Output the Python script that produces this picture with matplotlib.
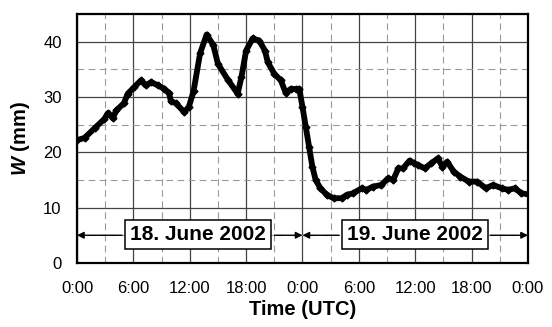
import matplotlib
matplotlib.use("Agg")
import matplotlib.pyplot as plt
from matplotlib.ticker import MultipleLocator, FixedLocator

plt.rcParams["font.family"] = ["Liberation Sans", "DejaVu Sans"]
plt.rcParams["mathtext.fontset"] = "custom"
plt.rcParams["mathtext.it"] = "Liberation Sans:italic:bold"
plt.rcParams["mathtext.rm"] = "Liberation Sans:bold"

# hours since 18 June 2002 0:00 UTC, precipitable water W (mm)
hours = [0.0, 0.8, 1.9, 2.9, 3.3, 3.8, 4.2, 5.0, 5.4, 6.1, 6.8, 7.3, 7.9, 8.6,
         9.3, 9.8, 10.0, 10.5, 11.4, 11.9, 12.4, 13.1, 13.8, 14.5, 15.0, 16.1,
         17.1, 17.5, 18.0, 18.7, 19.4, 20.0, 20.3, 21.0, 21.7, 22.2, 22.8,
         23.3, 23.65, 24.0, 24.35, 24.7, 25.05, 25.4, 25.9, 26.6, 27.3, 28.2,
         28.7, 29.4, 30.3, 30.8, 31.5, 32.4, 33.1, 33.65, 34.2, 34.7, 35.4,
         35.9, 36.3, 37.0, 37.7, 38.4, 38.9, 39.4, 40.1, 40.8, 41.7, 42.6,
         43.5, 44.3, 45.2, 45.9, 46.6, 47.3, 48.0]
w_mm = [22.2, 22.6, 24.4, 26.0, 27.1, 26.2, 27.6, 28.9, 30.6, 31.8, 33.0, 32.1,
        32.7, 32.1, 31.5, 30.7, 29.2, 28.9, 27.3, 28.2, 31.0, 37.9, 41.3, 39.4,
        36.0, 33.0, 30.6, 33.6, 38.4, 40.6, 40.2, 38.4, 36.3, 34.2, 33.0, 30.8,
        31.5, 31.4, 31.5, 28.2, 24.6, 21.0, 17.4, 15.0, 13.5, 12.3, 11.7, 11.7,
        12.3, 12.6, 13.5, 13.2, 13.8, 14.1, 15.3, 15.0, 17.1, 17.1, 18.5, 18.0,
        17.7, 17.1, 18.0, 18.9, 17.4, 18.3, 16.5, 15.6, 14.7, 14.7, 13.5, 14.1,
        13.5, 13.2, 13.5, 12.6, 12.4]

tick_hours = [0, 6, 12, 18, 24, 30, 36, 42, 48]
tick_labels = ["0:00", "6:00", "12:00", "18:00", "0:00", "6:00", "12:00", "18:00", "0:00"]
day_labels = ["18. June 2002", "19. June 2002"]
day_spans = [(0, 24), (24, 48)]
box_edges = [(4.8, 21.0), (27.9, 44.0)]

fig = plt.figure(figsize=(5.52, 3.27), dpi=100)
ax = fig.add_axes([0.1395, 0.196, 0.817, 0.761])

ax.set_xlim(0, 48)
ax.set_ylim(0, 45)
ax.xaxis.set_major_locator(FixedLocator(tick_hours))
ax.xaxis.set_minor_locator(MultipleLocator(3))
ax.yaxis.set_major_locator(FixedLocator([0, 10, 20, 30, 40]))
ax.yaxis.set_minor_locator(MultipleLocator(5))
ax.set_xticklabels(tick_labels)

ax.grid(True, which="major", color="#444444", linewidth=0.9)
ax.grid(True, which="minor", color="#999999", linewidth=0.8, linestyle=(0, (6, 4)))
ax.set_axisbelow(True)
ax.tick_params(which="both", length=0)
ax.tick_params(axis="x", labelsize=12, pad=13)
ax.tick_params(axis="y", labelsize=12, pad=11)
for s in ax.spines.values():
    s.set_linewidth(1.6)
    s.set_color("black")

ax.plot(hours, w_mm, color="black", linewidth=4.2, marker="D", markersize=3.5,
        solid_joinstyle="round", zorder=3)

for label, (d0, d1), (b0, b1) in zip(day_labels, day_spans, box_edges):
    ax.text((b0 + b1) / 2, 5.1, label, fontsize=15, fontweight="bold",
            ha="center", va="center", zorder=5,
            bbox=dict(boxstyle="square,pad=0.25", facecolor="white",
                      edgecolor="black", linewidth=1.1))
    ax.annotate("", xy=(d0, 5), xytext=(b0, 5), zorder=4,
                arrowprops=dict(arrowstyle="-|>", color="black", lw=1.0,
                                mutation_scale=10, shrinkA=0, shrinkB=0))
    ax.annotate("", xy=(d1, 5), xytext=(b1, 5), zorder=4,
                arrowprops=dict(arrowstyle="-|>", color="black", lw=1.0,
                                mutation_scale=10, shrinkA=0, shrinkB=0))

ax.set_xlabel("Time (UTC)", fontsize=14.5, fontweight="bold", labelpad=3)
ax.set_ylabel(r"$W$ (mm)", fontsize=14.5, fontweight="bold", labelpad=8)

fig.savefig("out.png", dpi=100)
